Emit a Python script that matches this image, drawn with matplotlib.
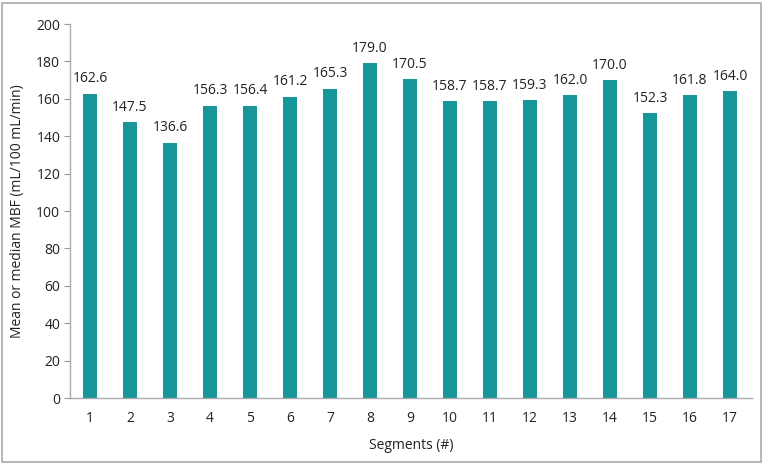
import matplotlib
matplotlib.use("Agg")
import matplotlib.pyplot as plt
from matplotlib.patches import Rectangle

segments = list(range(1, 18))
values = [162.6, 147.5, 136.6, 156.3, 156.4, 161.2, 165.3, 179.0, 170.5,
          158.7, 158.7, 159.3, 162.0, 170.0, 152.3, 161.8, 164.0]
yticks = list(range(0, 201, 20))

plt.rcParams['font.family'] = ['Open Sans', 'DejaVu Sans']
fs = 10
fig = plt.figure(figsize=(7.64, 4.65), dpi=100)
ax = fig.add_axes([70/764, 1-398/465, (752-70)/764, (398-24)/465])

ax.bar(segments, values, width=0.33, color='#17979a', zorder=2)
for x, v in zip(segments, values):
    ax.text(x, v + 4, f"{v:.1f}", ha='center', va='bottom', fontsize=fs, color='#222222')

ax.set_xlim(0.5, 17.55)
ax.set_ylim(0, 200)
ax.set_yticks(yticks)
ax.set_xticks(segments)
ax.tick_params(axis='y', length=4, color='#999999', labelsize=fs, labelcolor='#222222', pad=3)
ax.tick_params(axis='x', length=0, labelsize=fs, labelcolor='#222222', pad=9)
for s in ['top', 'right']:
    ax.spines[s].set_visible(False)
for s in ['left', 'bottom']:
    ax.spines[s].set_color('#aaaaaa')
    ax.spines[s].set_linewidth(1.0)

ax.set_xlabel('Segments (#)', fontsize=fs, color='#222222', labelpad=9)
ax.set_ylabel('Mean or median MBF (mL/100 mL/min)', fontsize=fs, color='#222222', labelpad=8)

fig.patches.append(Rectangle((2/764, 3/465), 759/764, 459/465, transform=fig.transFigure,
                             fill=False, edgecolor='#aaaaaa', linewidth=1.2))
fig.savefig('out.png', dpi=100)
